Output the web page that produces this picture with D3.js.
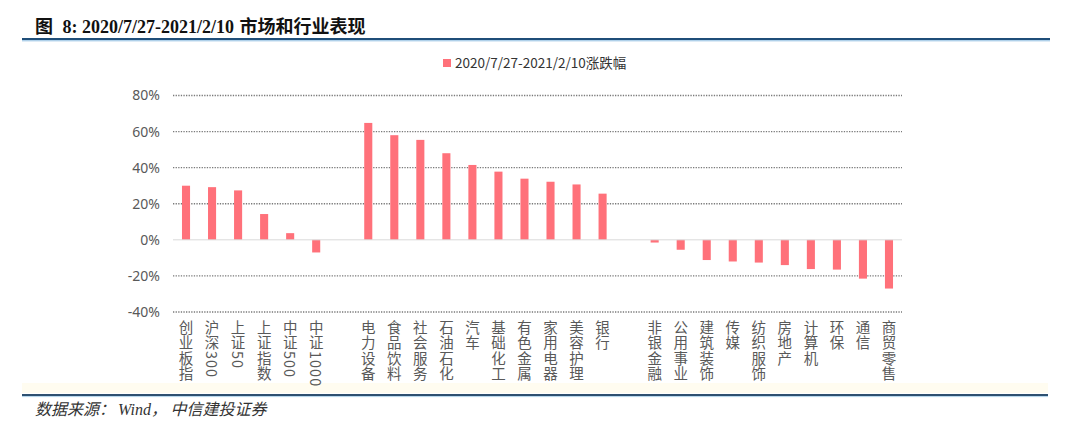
<!DOCTYPE html>
<html>
<head>
<meta charset="utf-8">
<script src="https://cdn.jsdelivr.net/npm/d3@7/dist/d3.min.js"></script>
<style>
  html, body { margin: 0; padding: 0; background: #ffffff; }
  svg { display: block; }
</style>
</head>
<body>
<svg id="chart" width="1080" height="432"></svg>
<script>
// ---- data ----
const categories = ["创业板指", "沪深300", "上证50", "上证指数", "中证500", "中证1000", "",
  "电力设备", "食品饮料", "社会服务", "石油石化", "汽车", "基础化工", "有色金属", "家用电器", "美容护理", "银行", "",
  "非银金融", "公用事业", "建筑装饰", "传媒", "纺织服饰", "房地产", "计算机", "环保", "通信", "商贸零售"];
const values = [30.0, 29.2, 27.4, 14.3, 3.7, -7.0, null,
  64.8, 58.0, 55.4, 48.0, 41.5, 37.8, 33.9, 32.2, 30.7, 25.6, null,
  -1.5, -5.5, -11.2, -12.0, -12.6, -14.0, -16.2, -16.5, -21.5, -27.0];
const yTicks = [-40, -20, 0, 20, 40, 60, 80];
const seriesName = "2020/7/27-2021/2/10涨跌幅";
const sourceParts = ["数据来源：", "Wind", "，  中信建投证券"];

// ---- layout ----
const svg = d3.select("#chart");
const plot = { left: 173, right: 902, top: 95.5, bottom: 312 };
const barColor = "#ff717a";

const slots = categories.map((c, i) => i);
const x = d3.scaleBand().domain(slots).range([plot.left, plot.right])
  .paddingInner(0.69).paddingOuter(0.345);
const y = d3.scaleLinear().domain([-40, 80]).range([plot.bottom, plot.top]);

// faint background band at bottom of chart image
svg.append("rect").attr("x", 22).attr("y", 383).attr("width", 1026).attr("height", 10)
  .attr("fill", "#fffcf0");

// title
const title = svg.append("text").attr("x", 35).attr("y", 32.5)
  .attr("font-size", 18).attr("font-weight", "bold").attr("fill", "#111");
title.append("tspan").attr("font-family", "'Noto Sans CJK SC'").text("图");
title.append("tspan").attr("font-family", "'Liberation Serif', serif").attr("dx", 5).text(" 8: 2020/7/27-2021/2/10 ");
title.append("tspan").attr("font-family", "'Noto Sans CJK SC'").attr("dx", 1).text("市场和行业表现");

// title rule
svg.append("line").attr("x1", 22).attr("x2", 1050).attr("y1", 39).attr("y2", 39)
  .attr("stroke", "#1f4e79").attr("stroke-width", 2.2);
svg.append("line").attr("x1", 22).attr("x2", 1050).attr("y1", 40.8).attr("y2", 40.8)
  .attr("stroke", "#8dbde0").attr("stroke-width", 1);

// legend
svg.append("rect").attr("x", 443).attr("y", 59).attr("width", 8).attr("height", 8).attr("fill", barColor);
svg.append("text").attr("x", 455).attr("y", 67.5)
  .attr("font-family", "'Noto Sans CJK SC', 'Noto Sans', sans-serif")
  .attr("font-size", 13.5).attr("fill", "#333").text(seriesName);

// y axis labels
const yAxis = d3.axisLeft(y).tickValues(yTicks).tickSize(0).tickPadding(0)
  .tickFormat(d => d + "%");
const yg = svg.append("g").attr("transform", `translate(${plot.left - 13},0)`).call(yAxis);
yg.select(".domain").remove();
yg.selectAll("text").attr("font-family", "'Noto Sans', 'Liberation Sans', sans-serif")
  .attr("font-size", 14).attr("fill", "#595959");

// gridlines
svg.append("g").selectAll("line").data(yTicks.filter(d => d !== 0)).join("line")
  .attr("x1", plot.left).attr("x2", plot.right)
  .attr("y1", d => y(d)).attr("y2", d => y(d))
  .attr("stroke", "#7a7a7a").attr("stroke-width", 1.3).attr("stroke-dasharray", "1.3,1.3");

// bars
svg.append("g").selectAll("rect").data(slots.filter(i => values[i] !== null)).join("rect")
  .attr("x", i => x(i))
  .attr("width", x.bandwidth())
  .attr("y", i => y(Math.max(0, values[i])))
  .attr("height", i => Math.abs(y(values[i]) - y(0)))
  .attr("fill", barColor);

// zero line
svg.append("line").attr("x1", plot.left).attr("x2", plot.right)
  .attr("y1", y(0)).attr("y2", y(0))
  .attr("stroke", "#d9d9d9").attr("stroke-width", 1);

// x labels (vertical text)
svg.append("g").selectAll("text").data(slots.filter(i => categories[i] !== "")).join("text")
  .attr("x", i => x(i) + x.bandwidth() / 2)
  .attr("y", 320)
  .attr("font-family", "'Noto Sans CJK SC', sans-serif")
  .attr("font-size", 14.5).attr("fill", "#595959")
  .style("writing-mode", "vertical-rl")
  .attr("letter-spacing", 1)
  .text(i => categories[i]);

// footer rule
svg.append("line").attr("x1", 22).attr("x2", 1048).attr("y1", 395).attr("y2", 395)
  .attr("stroke", "#2e5070").attr("stroke-width", 2);
svg.append("line").attr("x1", 22).attr("x2", 1048).attr("y1", 396.6).attr("y2", 396.6)
  .attr("stroke", "#9cc6e4").attr("stroke-width", 0.8);

// source
const src = svg.append("text").attr("x", 35).attr("y", 415)
  .attr("font-size", 16).attr("fill", "#333").attr("font-style", "italic")
  .attr("font-family", "'Noto Sans CJK SC', serif");
src.append("tspan").text(sourceParts[0]);
src.append("tspan").attr("font-family", "'Liberation Serif', serif").attr("dx", 3).text(sourceParts[1]);
src.append("tspan").text(sourceParts[2]);
</script>
</body>
</html>
